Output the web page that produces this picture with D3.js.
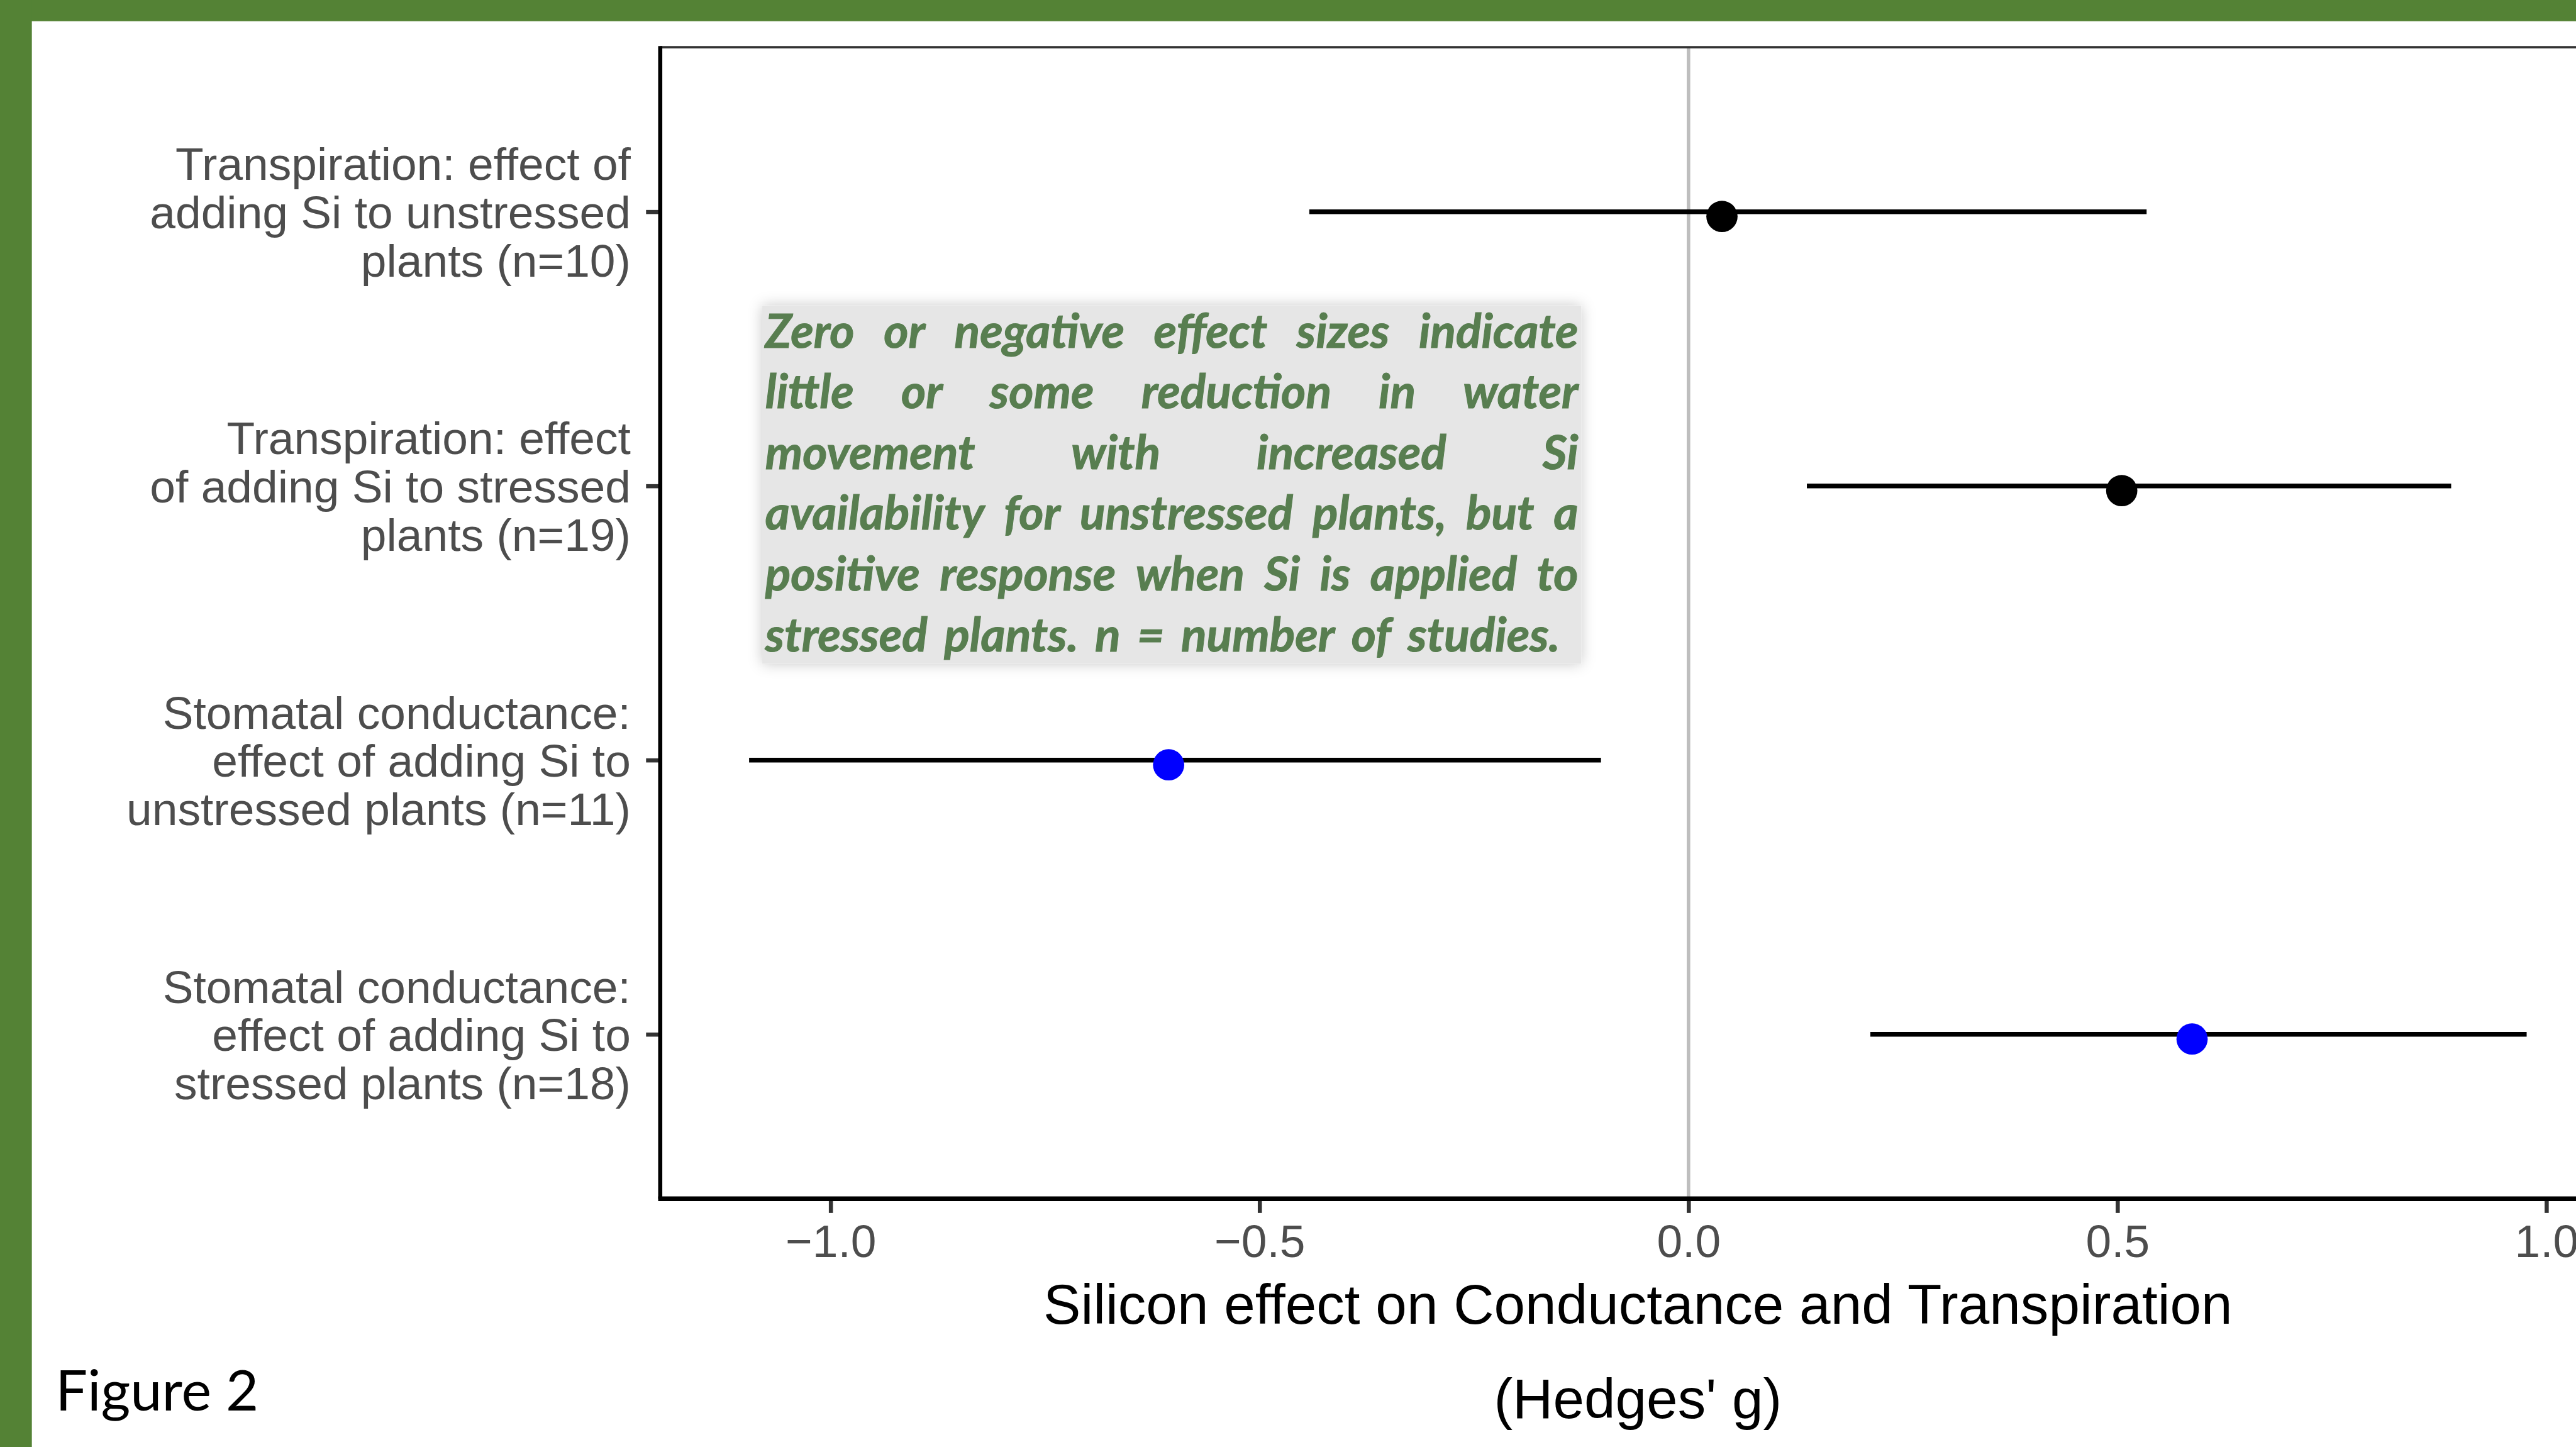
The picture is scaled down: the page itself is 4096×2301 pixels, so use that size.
<!DOCTYPE html>
<html lang="en">
<head>
<meta charset="utf-8">
<title>Figure 2</title>
<style>
    body { margin: 0; background: #ffffff; }
    svg { display: block; }
</style>
<script type="text/javascript" src="https://d3js.org/d3.v7.min.js"></script>
</head>
<body>
<div class="plot"></div>
<script type="text/javascript">
// rows, top to bottom
var rowLabels = [
    ["Transpiration: effect of", "adding Si to unstressed", "plants (n=10)"],
    ["Transpiration: effect", "of adding Si to stressed", "plants (n=19)"],
    ["Stomatal conductance:", "effect of adding Si to", "unstressed plants (n=11)"],
    ["Stomatal conductance:", "effect of adding Si to", "stressed plants (n=18)"]
];
var outcome = ["Transpiration", "Transpiration", "Conductance", "Conductance"];
var estimate = [0.039, 0.505, -0.606, 0.587];
var lower = [-0.442, 0.138, -1.095, 0.212];
var upper = [0.534, 0.889, -0.102, 0.977];

var xTitle = ["Silicon effect on Conductance and Transpiration", "(Hedges' g)"];
var note = [
    "Zero or negative effect sizes indicate",
    "little or some reduction in water",
    "movement with increased Si",
    "availability for unstressed plants, but a",
    "positive response when Si is applied to",
    "stressed plants. n = number of studies."
];

var rows = rowLabels.map(function(d, i) {
    return {key: "r" + i, lines: d, outcome: outcome[i], est: estimate[i], lo: lower[i], hi: upper[i]};
});

// drawn in the reference's pixel units, then scaled to the window
var s = 4096 / 4366;
var svg = d3.select(".plot").append("svg")
    .attr("width", 4096)
    .attr("height", 2301);
var defs = svg.append("defs");
var f = defs.append("filter").attr("id", "shadow")
    .attr("x", "-10%").attr("y", "-10%").attr("width", "120%").attr("height", "120%");
f.append("feDropShadow").attr("dx", 0).attr("dy", 0)
    .attr("stdDeviation", 12).attr("flood-color", "#000").attr("flood-opacity", 0.22);

var g = svg.append("g").attr("transform", "scale(" + s + ")");

// slide frame
g.append("rect").attr("x", 0).attr("y", 0).attr("width", 4366).attr("height", 36).attr("fill", "#548235");
g.append("rect").attr("x", 0).attr("y", 0).attr("width", 54).attr("height", 2453).attr("fill", "#548235");

var pLeft = 1119, pRight = 4433, pTop = 80, pBottom = 2032;

var lo = d3.min(rows, d => d.lo), hi = d3.max(rows, d => d.hi);
var pad = (hi - lo) * 0.05;
var x = d3.scaleLinear().domain([lo - pad, hi + pad]).range([pLeft, pRight]);
var y = d3.scalePoint().domain(rows.map(d => d.key)).range([pTop, pBottom]).padding(0.6);
var color = d3.scaleOrdinal().domain(["Transpiration", "Conductance"]).range(["#000000", "#0000ff"]);

// zero line
g.append("line")
    .attr("x1", x(0)).attr("x2", x(0))
    .attr("y1", pTop).attr("y2", pBottom)
    .attr("stroke", "#bebebe").attr("stroke-width", 6);

// note box
var boxX = 1292, boxY = 518, boxW = 1388, boxH = 607;
g.append("rect")
    .attr("x", boxX).attr("y", boxY).attr("width", boxW).attr("height", boxH)
    .attr("fill", "#e6e6e6")
    .attr("filter", "url(#shadow)");

var noteG = g.append("g")
    .attr("font-family", "Lato, 'Open Sans', sans-serif")
    .attr("font-weight", "bold")
    .attr("font-style", "italic")
    .attr("font-size", 80)
    .attr("stroke", "#587e50")
    .attr("stroke-width", 1.2)
    .attr("fill", "#587e50");

note.forEach(function(line, i) {
    var words = line.split(" ");
    var baseline = 589 + i * 103;
    var tx = boxX + 5;
    var width = (i === note.length - 1) ? 1347 : 1378;
    var texts = words.map(function(w) {
        return noteG.append("text").attr("y", baseline).text(w);
    });
    var widths = texts.map(t => t.node().getComputedTextLength());
    var total = d3.sum(widths);
    var gap = (width - total) / (words.length - 1);
    // squeeze the words a little if the line would not fit
    var k = 1;
    if (gap < 14) {
        k = (width - 14 * (words.length - 1)) / total;
        gap = 14;
    }
    var cx = tx;
    texts.forEach(function(t, j) {
        var w = widths[j] * k;
        t.attr("x", cx);
        if (k !== 1) t.attr("textLength", w).attr("lengthAdjust", "spacingAndGlyphs");
        cx += w + gap;
    });
});

// error bars
g.selectAll(".bar")
    .data(rows)
    .enter()
    .append("line")
    .attr("class", "bar")
    .attr("x1", d => x(d.lo))
    .attr("x2", d => x(d.hi))
    .attr("y1", d => y(d.key))
    .attr("y2", d => y(d.key))
    .attr("stroke", "#000")
    .attr("stroke-width", 8);

// points
g.selectAll(".pt")
    .data(rows)
    .enter()
    .append("circle")
    .attr("class", "pt")
    .attr("cx", d => x(d.est))
    .attr("cy", d => y(d.key) + 8)
    .attr("r", 26.5)
    .attr("fill", d => color(d.outcome));

// panel frame
g.append("line").attr("x1", pLeft).attr("x2", pRight).attr("y1", pTop).attr("y2", pTop)
    .attr("stroke", "#333").attr("stroke-width", 4);
g.append("line").attr("x1", pRight).attr("x2", pRight).attr("y1", pTop).attr("y2", pBottom)
    .attr("stroke", "#333").attr("stroke-width", 4);

// y axis
var yAxis = g.append("g")
    .attr("transform", "translate(" + pLeft + ",0)")
    .call(d3.axisLeft(y).tickSize(24).tickPadding(26));
yAxis.select(".domain").remove();
yAxis.selectAll(".tick line").attr("stroke", "#333").attr("stroke-width", 7);
yAxis.selectAll(".tick text")
    .attr("font-family", "'Liberation Sans', Arial, sans-serif")
    .attr("font-size", 78)
    .attr("fill", "#4d4d4d")
    .attr("dy", null)
    .each(function(k) {
        var row = rows.find(r => r.key === k);
        var t = d3.select(this).text(null);
        var tx = t.attr("x");
        row.lines.forEach(function(line, i) {
            t.append("tspan").attr("x", tx).attr("y", 28 + (i - 1) * 82).text(line);
        });
    });
g.append("line").attr("x1", pLeft).attr("x2", pLeft).attr("y1", pTop - 2).attr("y2", pBottom)
    .attr("stroke", "#000").attr("stroke-width", 7);

// x axis
var xAxis = g.append("g")
    .attr("transform", "translate(0," + pBottom + ")")
    .call(d3.axisBottom(x).ticks(5).tickFormat(d3.format(".1f")).tickSize(24).tickPadding(19));
xAxis.select(".domain").remove();
xAxis.selectAll(".tick line").attr("stroke", "#333").attr("stroke-width", 7);
xAxis.selectAll(".tick text")
    .attr("font-family", "'Liberation Sans', Arial, sans-serif")
    .attr("font-size", 78)
    .attr("fill", "#4d4d4d");
g.append("line").attr("x1", pLeft - 3.5).attr("x2", pRight).attr("y1", pBottom).attr("y2", pBottom)
    .attr("stroke", "#000").attr("stroke-width", 8);

// x title
g.selectAll(".xtitle")
    .data(xTitle)
    .enter()
    .append("text")
    .attr("class", "xtitle")
    .attr("x", (pLeft + pRight) / 2)
    .attr("y", (d, i) => 2244 + i * 160)
    .attr("text-anchor", "middle")
    .attr("font-family", "'Liberation Sans', Arial, sans-serif")
    .attr("font-size", 95)
    .attr("fill", "#000")
    .text(d => d);

g.append("text")
    .attr("x", 94)
    .attr("y", 2391)
    .attr("font-family", "Lato, 'Open Sans', sans-serif")
    .attr("font-size", 96)
    .attr("fill", "#000")
    .text("Figure 2");
</script>
</body>
</html>
